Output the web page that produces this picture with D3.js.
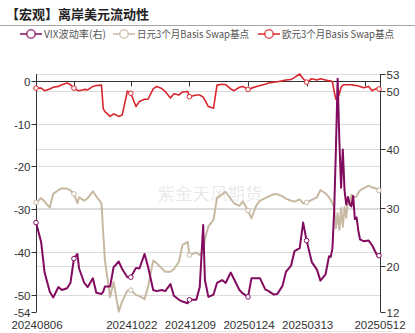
<!DOCTYPE html>
<html>
<head>
<meta charset="utf-8">
<script src="https://cdn.jsdelivr.net/npm/d3@7"></script>
<style>
  html, body { margin: 0; padding: 0; background: #fff; }
  svg { display: block; font-family: "Noto Sans CJK SC", "Noto Sans", sans-serif; }
  .num { font-family: "Liberation Sans", Arial, sans-serif; }
</style>
</head>
<body>
<svg id="chart" width="415" height="333"></svg>
<script>
// Trading dates (sampled) for the three series
const dates = [
  "2024-08-06","2024-08-09","2024-08-13","2024-08-16","2024-08-20","2024-08-23","2024-08-27","2024-08-30",
  "2024-09-03","2024-09-05","2024-09-09","2024-09-10","2024-09-13","2024-09-17","2024-09-20","2024-09-24",
  "2024-09-27","2024-09-30","2024-10-01","2024-10-04","2024-10-08","2024-10-11","2024-10-15","2024-10-18",
  "2024-10-22","2024-10-25","2024-10-29","2024-11-01","2024-11-05","2024-11-08","2024-11-12","2024-11-15",
  "2024-11-19","2024-11-22","2024-11-26","2024-11-29","2024-12-03","2024-12-06","2024-12-09","2024-12-13",
  "2024-12-17","2024-12-19","2024-12-20","2024-12-24","2024-12-27","2024-12-31","2025-01-03","2025-01-07",
  "2025-01-10","2025-01-14","2025-01-17","2025-01-21","2025-01-24","2025-01-28","2025-01-31","2025-02-04",
  "2025-02-07","2025-02-11","2025-02-14","2025-02-18","2025-02-21","2025-02-25","2025-02-28","2025-03-04",
  "2025-03-07","2025-03-11","2025-03-13","2025-03-18","2025-03-21","2025-03-25","2025-03-28","2025-04-01",
  "2025-04-02","2025-04-03","2025-04-04","2025-04-07","2025-04-08","2025-04-09","2025-04-10","2025-04-11",
  "2025-04-14","2025-04-15","2025-04-16","2025-04-17","2025-04-18","2025-04-21","2025-04-22","2025-04-23",
  "2025-04-24","2025-04-25","2025-04-29","2025-05-02","2025-05-06","2025-05-09","2025-05-12"
];

// VIX (right axis)
const vixVol = [
  27.4,24.0,18.8,15.5,14.5,16.3,15.8,16.1,
  17.0,21.2,22.0,19.5,17.0,16.3,17.8,15.3,
  15.1,15.5,16.4,16.4,19.7,20.7,19.4,18.0,
  18.0,19.6,19.5,22.0,19.8,15.8,15.6,15.8,
  15.6,16.8,14.8,14.1,13.8,13.5,14.1,14.1,
  16.3,27.0,17.5,14.6,15.0,17.0,17.5,17.0,
  18.8,17.6,15.8,15.2,14.6,17.8,17.8,17.8,
  15.9,15.6,15.0,15.1,16.5,18.9,20.0,22.5,
  23.0,27.4,24.3,20.6,19.3,17.4,18.5,21.6,
  21.5,23.0,29.5,40.0,52.2,41.5,33.4,40.0,
  33.0,30.5,31.8,30.6,30.2,32.0,28.0,28.3,
  26.0,24.5,24.2,24.3,23.5,21.7,21.7
];

// JPY 3M basis swap, bp (left axis)
const jpyBasis = [
  -28.4,-27.4,-28.2,-29.6,-26.4,-25.5,-25.1,-25.2,
  -25.6,-26.4,-28.6,-27.2,-28.0,-27.4,-25.8,-27.0,
  -28.6,-35.6,-42.0,-50.5,-47.0,-53.9,-51.5,-49.0,
  -48.9,-50.0,-50.3,-51.0,-48.1,-42.0,-42.6,-43.8,
  -44.6,-44.6,-44.0,-42.2,-38.3,-37.6,-40.7,-40.1,
  -40.7,-40.0,-37.0,-34.0,-32.5,-27.4,-26.5,-25.9,
  -27.6,-28.6,-29.2,-28.2,-30.3,-32.1,-29.0,-28.0,
  -27.4,-27.0,-26.5,-26.5,-27.0,-27.5,-28.0,-28.2,
  -27.7,-28.6,-28.4,-27.8,-27.2,-25.5,-26.3,-27.2,
  -27.8,-28.6,-29.7,-34.4,-30.9,-34.8,-29.7,-34.1,
  -29.5,-32.0,-27.8,-29.0,-26.6,-27.0,-27.2,-27.0,
  -26.2,-25.6,-25.1,-24.5,-24.9,-25.2,-25.6
];

// EUR 3M basis swap, bp (left axis)
const eurBasis = [
  -1.7,-1.7,-2.3,-1.9,-1.5,-1.3,-0.9,-0.5,
  -0.9,-1.7,-2.2,-2.3,-2.0,-2.1,-1.3,-1.1,
  -1.0,-6.5,-7.2,-8.3,-7.7,-8.3,-8.0,-2.4,
  -2.9,-6.0,-4.8,-4.3,-4.3,-1.9,-1.3,-1.8,
  -2.5,-4.0,-3.0,-3.3,-2.6,-2.5,-3.7,-3.3,
  -3.3,-3.8,-4.5,-6.0,-6.4,-1.0,-0.8,-0.9,
  -1.9,-2.3,-1.5,-1.3,-2.0,-1.7,-1.3,-1.1,
  -0.8,-0.5,-0.3,-0.2,0.0,0.2,0.3,0.8,
  1.6,0.5,-0.3,0.5,0.2,0.5,0.2,0.0,
  0.0,-0.3,-2.5,-4.3,-4.0,-3.0,-1.5,-1.0,
  -0.9,-0.9,-0.9,-0.9,-0.9,-1.0,-1.1,-1.1,
  -1.2,-1.3,-1.6,-1.3,-2.3,-1.7,-1.9
];

const leftTicks = [0, -10, -20, -30, -40, -50, -54];
const rightTicks = [53, 50, 40, 30, 20, 12];
const xLabelDates = ["2024-08-06","2024-10-22","2024-12-09","2025-01-24","2025-03-13","2025-05-12"];
const xTickDates = ["2024-09-05","2024-10-22","2024-12-09","2025-01-24","2025-03-13","2025-04-30"];
const markerDates = ["2024-08-06","2024-09-05","2024-10-22","2024-12-09","2025-01-24","2025-03-13","2025-05-12"];

const seriesInfo = [
  { name: "VIX波动率(右)", values: vixVol, axis: "right", color: "#820b5f", width: 2, legendX: 20, textW: 62 },
  { name: "日元3个月Basis Swap基点", values: jpyBasis, axis: "left", color: "#c8b9a3", width: 2, legendX: 113, textW: 112 },
  { name: "欧元3个月Basis Swap基点", values: eurBasis, axis: "left", color: "#d8262e", width: 1.6, legendX: 258, textW: 112 }
];

const parse = d3.timeParse("%Y-%m-%d");
const fmt = d3.timeFormat("%Y%m%d");
const start = parse(dates[0]);

// category-style position: number of weekdays since the first date
function tradeIndex(d) {
  let n = 0;
  for (let t = start; t < d; t = d3.timeDay.offset(t, 1)) {
    const w = t.getDay();
    if (w !== 0 && w !== 6) n++;
  }
  return n;
}

const plot = { left: 36, right: 380.5, top: 74, bottom: 312 };
const svg = d3.select("#chart");

const x = d3.scaleLinear()
  .domain([0, tradeIndex(parse(dates[dates.length - 1]))])
  .range([plot.left, 379]);
const yL = d3.scaleLinear().domain([-54, 1.6]).range([plot.bottom, plot.top]);
const yR = d3.scaleLinear().domain([12, 53]).range([plot.bottom, plot.top]);
const xOf = s => x(tradeIndex(parse(s)));

// title
svg.append("text").attr("x", 6).attr("y", 19)
  .attr("font-size", 13).attr("font-weight", "bold").attr("fill", "#222")
  .text("【宏观】离岸美元流动性");
svg.append("line").attr("x1", 0).attr("x2", 415).attr("y1", 25.5).attr("y2", 25.5)
  .attr("stroke", "#a6a6a6").attr("stroke-width", 1);

// grid lines
const grid = svg.append("g").attr("stroke", "#dcdcdc").attr("stroke-width", 1);
leftTicks.filter(v => v !== 0 && v !== -54).forEach(v => {
  grid.append("line").attr("x1", plot.left).attr("x2", plot.right)
    .attr("y1", Math.round(yL(v)) + 0.5).attr("y2", Math.round(yL(v)) + 0.5);
});
rightTicks.filter(v => v !== 12).forEach(v => {
  grid.append("line").attr("x1", plot.left).attr("x2", plot.right)
    .attr("y1", Math.round(yR(v)) + 0.5).attr("y2", Math.round(yR(v)) + 0.5);
});

// watermark
svg.append("text").attr("x", 210).attr("y", 200).attr("text-anchor", "middle")
  .attr("font-size", 17.5).attr("fill", "#000").attr("fill-opacity", 0.1)
  .text("紫金天风期货");

// category axis line at zero of the left axis
const y0 = Math.round(yL(0)) + 0.5;
svg.append("line").attr("x1", plot.left).attr("x2", plot.right).attr("y1", y0).attr("y2", y0)
  .attr("stroke", "#333").attr("stroke-width", 1);
xTickDates.forEach(s => {
  const xx = Math.round(xOf(s)) + 0.5;
  svg.append("line").attr("x1", xx).attr("x2", xx).attr("y1", y0).attr("y2", y0 + 5)
    .attr("stroke", "#333").attr("stroke-width", 1);
});
xLabelDates.forEach(s => {
  svg.append("text").attr("class", "num").attr("x", xOf(s) + 1).attr("y", 329)
    .attr("text-anchor", "middle")
    .attr("font-size", 11.5).attr("fill", "#333").text(fmt(parse(s)));
});

// faint footer rule below the date labels
svg.append("line").attr("x1", 38).attr("x2", 393).attr("y1", 331.5).attr("y2", 331.5)
  .attr("stroke", "#e2e2e2").attr("stroke-width", 1);

// left axis
const axL = svg.append("g").attr("transform", `translate(${plot.left + 0.5},0)`);
axL.append("line").attr("y1", plot.top).attr("y2", plot.bottom).attr("stroke", "#333");
leftTicks.forEach(v => {
  const yy = Math.round(yL(v)) + 0.5;
  axL.append("line").attr("x1", -5).attr("x2", 0).attr("y1", yy).attr("y2", yy).attr("stroke", "#333");
  axL.append("text").attr("class", "num").attr("x", -6).attr("y", yy).attr("dy", "0.36em")
    .attr("text-anchor", "end")
    .attr("font-size", 11.5).attr("fill", "#333").text(v);
});

// right axis
const axR = svg.append("g").attr("transform", `translate(${plot.right},0)`);
axR.append("line").attr("y1", plot.top).attr("y2", plot.bottom).attr("stroke", "#333");
rightTicks.forEach(v => {
  const yy = Math.round(yR(v)) + 0.5;
  axR.append("line").attr("x1", 0).attr("x2", 5).attr("y1", yy).attr("y2", yy).attr("stroke", "#333");
  axR.append("text").attr("class", "num").attr("x", 6).attr("y", yy).attr("dy", "0.36em")
    .attr("text-anchor", "start")
    .attr("font-size", 11.5).attr("fill", "#333").text(v);
});

// series lines (drawn so VIX ends on top)
const drawOrder = [seriesInfo[1], seriesInfo[2], seriesInfo[0]];
drawOrder.forEach(s => {
  const yS = s.axis === "right" ? yR : yL;
  const pts = dates.map((d, i) => ({ x: xOf(d), y: yS(s.values[i]), d }));
  svg.append("path").datum(pts)
    .attr("fill", "none").attr("stroke", s.color).attr("stroke-width", s.width)
    .attr("stroke-linejoin", "round")
    .attr("d", d3.line().x(p => p.x).y(p => p.y));
  svg.append("g").selectAll("circle")
    .data(pts.filter(p => markerDates.includes(p.d)))
    .join("circle")
    .attr("cx", p => p.x).attr("cy", p => p.y).attr("r", 2.3)
    .attr("fill", "#fff").attr("stroke", s.color).attr("stroke-width", 1);
});

// legend
seriesInfo.forEach(s => {
  const g = svg.append("g").attr("transform", `translate(${s.legendX},34)`);
  g.append("line").attr("x1", 0).attr("x2", 22).attr("y1", 0).attr("y2", 0)
    .attr("stroke", s.color).attr("stroke-width", 2).attr("stroke-opacity", 0.75);
  g.append("circle").attr("cx", 11).attr("cy", 0).attr("r", 4.2)
    .attr("fill", "#fff").attr("stroke", s.color).attr("stroke-width", 1.6).attr("stroke-opacity", 0.75);
  g.append("text").attr("x", 24).attr("y", 0).attr("dy", "0.35em")
    .attr("font-size", 10.5).attr("fill", "#555")
    .attr("textLength", s.textW).attr("lengthAdjust", "spacingAndGlyphs")
    .text(s.name);
});
</script>
</body>
</html>
